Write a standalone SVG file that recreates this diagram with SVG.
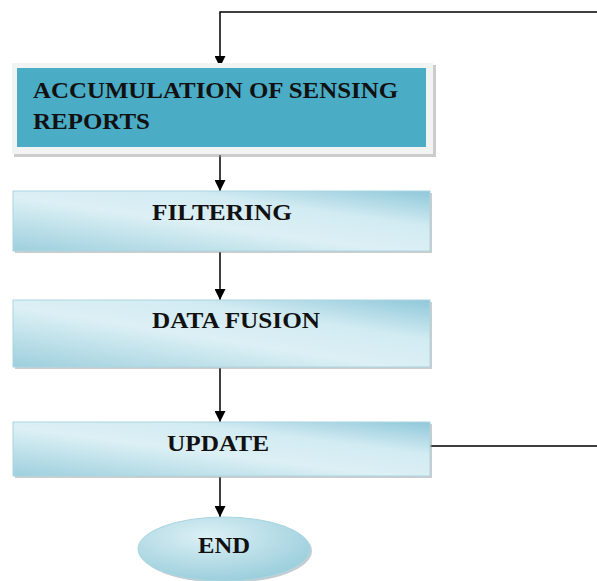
<svg xmlns="http://www.w3.org/2000/svg" width="597" height="581" viewBox="0 0 597 581">
<defs>
<linearGradient id="lb" x1="0" y1="1" x2="1" y2="0">
<stop offset="0" stop-color="#9dcfdd"/>
<stop offset="0.45" stop-color="#dcf0f5"/>
<stop offset="0.7" stop-color="#d2ebf2"/>
<stop offset="1" stop-color="#8fc8d9"/>
</linearGradient>
<radialGradient id="el" cx="0.4" cy="0.3" r="0.8">
<stop offset="0" stop-color="#dcf0f5"/>
<stop offset="1" stop-color="#93cad9"/>
</radialGradient>
<marker id="ah" viewBox="0 0 10 10" refX="10" refY="5" markerWidth="11" markerHeight="11" markerUnits="userSpaceOnUse" orient="auto">
<path d="M0,0 L10,5 L0,10 Z" fill="#000"/>
</marker>
</defs>
<style>
.t{font-family:"Liberation Serif","Times New Roman",serif;font-weight:bold;font-size:24px;fill:#111}
.lb{fill:url(#lb);stroke:#a9d6e2;stroke-width:1}
.sh{fill:#9a9a9a;opacity:0.5}
.c{stroke:#000;stroke-width:1.5;fill:none}
</style>
<rect width="597" height="581" fill="#fff"/>
<g id="connectors">
<polyline class="c" points="597,12 220,12 220,67" marker-end="url(#ah)"/>
<line class="c" x1="220" y1="155" x2="220" y2="191" marker-end="url(#ah)"/>
<line class="c" x1="220" y1="252" x2="220" y2="300" marker-end="url(#ah)"/>
<line class="c" x1="220" y1="368" x2="220" y2="422" marker-end="url(#ah)"/>
<line class="c" x1="220" y1="477" x2="220" y2="517" marker-end="url(#ah)"/>
<line class="c" x1="430" y1="446" x2="597" y2="446"/>
</g>
<g id="n1">
<rect class="sh" x="14" y="65" width="422" height="92"/>
<rect x="12" y="63" width="421" height="91" fill="#f2f4f4"/>
<rect x="17" y="68" width="409" height="79" fill="#4bacc6"/>
<text class="t" x="33" y="98" textLength="365" lengthAdjust="spacingAndGlyphs">ACCUMULATION OF SENSING</text>
<text class="t" x="33" y="129" textLength="117" lengthAdjust="spacingAndGlyphs">REPORTS</text>
</g>
<g id="n2">
<rect class="sh" x="15" y="193" width="417" height="60"/>
<rect class="lb" x="13" y="191" width="417" height="60"/>
<text class="t" x="152" y="220" textLength="140" lengthAdjust="spacingAndGlyphs">FILTERING</text>
</g>
<g id="n3">
<rect class="sh" x="15" y="302" width="417" height="67"/>
<rect class="lb" x="13" y="300" width="417" height="67"/>
<text class="t" x="152" y="328" textLength="168" lengthAdjust="spacingAndGlyphs">DATA FUSION</text>
</g>
<g id="n4">
<rect class="sh" x="15" y="424" width="417" height="54"/>
<rect class="lb" x="13" y="422" width="417" height="54"/>
<text class="t" x="167" y="451" textLength="102" lengthAdjust="spacingAndGlyphs">UPDATE</text>
</g>
<g id="n5">
<ellipse cx="226" cy="551" rx="86" ry="32" fill="#8a9ea4" opacity="0.5"/>
<ellipse cx="224" cy="549" rx="86" ry="32" fill="url(#el)" stroke="#a9d6e2" stroke-width="1"/>
<text class="t" x="198" y="553" textLength="52" lengthAdjust="spacingAndGlyphs">END</text>
</g>
</svg>
